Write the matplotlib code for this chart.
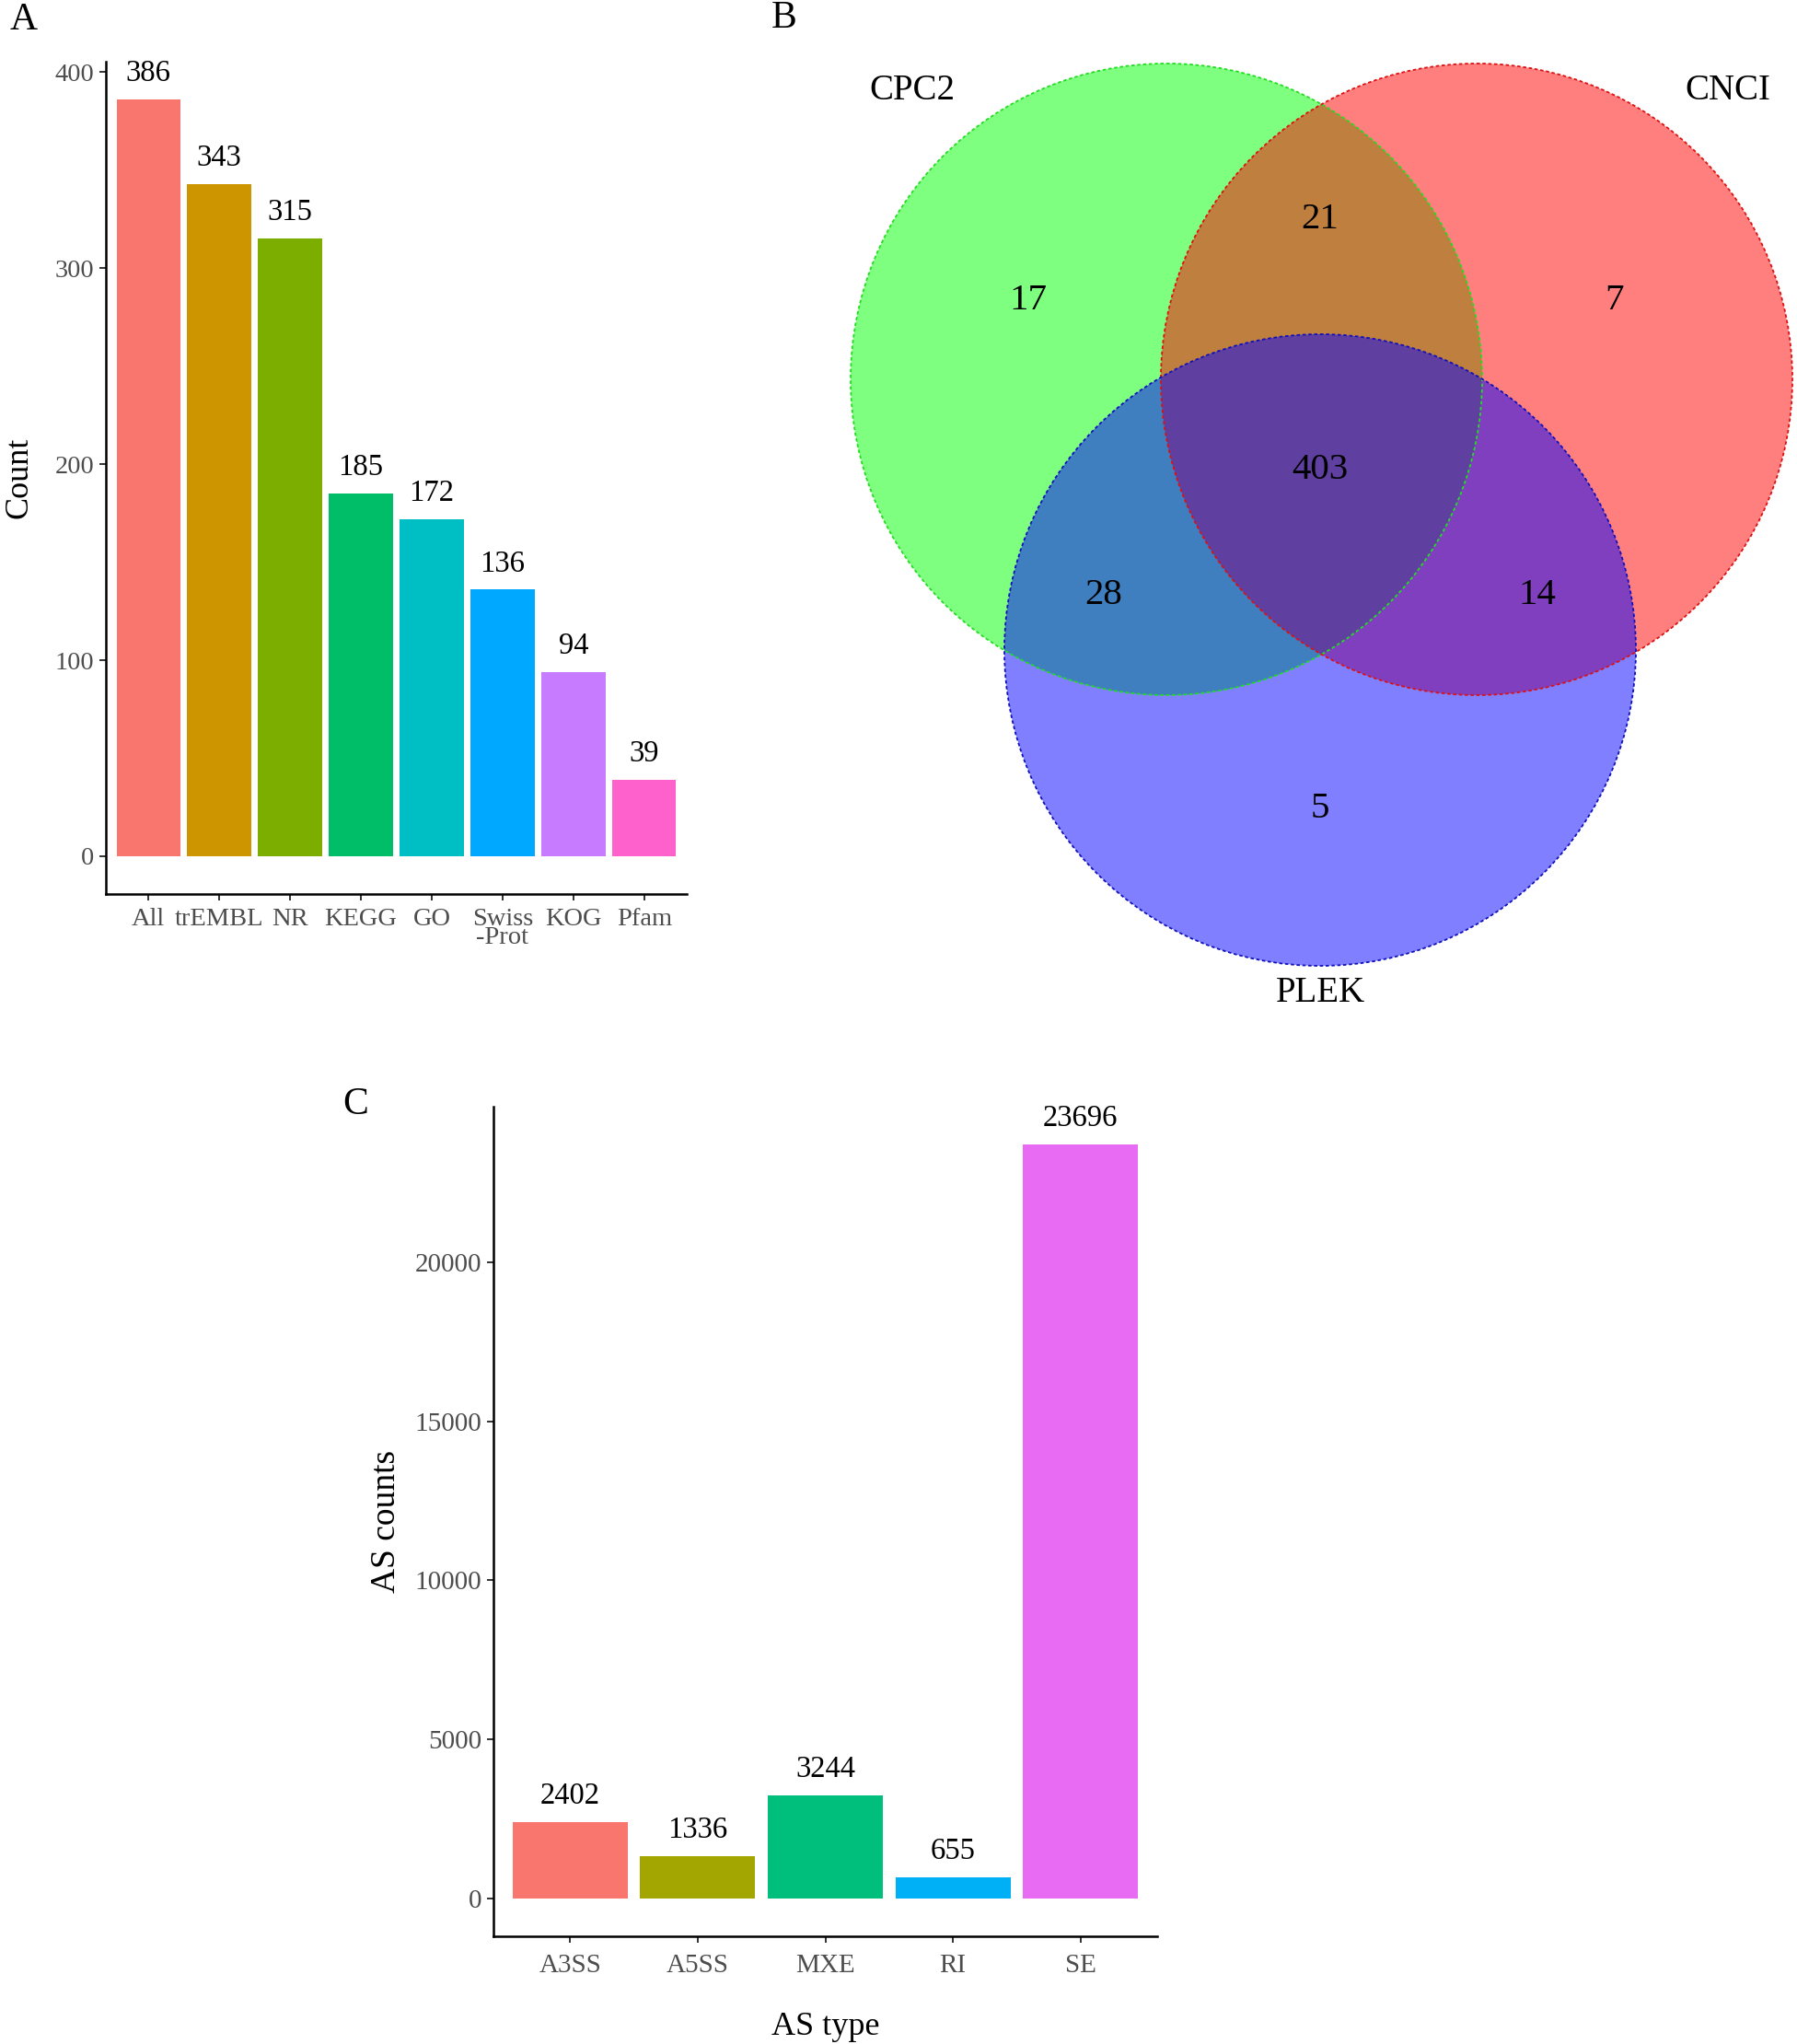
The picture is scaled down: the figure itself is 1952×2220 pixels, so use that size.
import matplotlib
matplotlib.use("Agg")
import matplotlib.pyplot as plt
from matplotlib.patches import Circle

plt.rcParams['font.family'] = ['Liberation Serif', 'DejaVu Serif']

# ---- Panel A data ----
db_names = ["All", "trEMBL", "NR", "KEGG", "GO", "Swiss\n-Prot", "KOG", "Pfam"]
db_counts = [386, 343, 315, 185, 172, 136, 94, 39]
db_colors = ["#F8766D", "#CD9600", "#7CAE00", "#00BE67", "#00BFC4", "#00A9FF", "#C77CFF", "#FF61CC"]
a_yticks = [0, 100, 200, 300, 400]

# ---- Panel B data (Venn) ----
venn_sets = ["CPC2", "CNCI", "PLEK"]
venn_only = [17, 7, 5]          # CPC2 only, CNCI only, PLEK only
venn_pairs = [21, 28, 14]       # CPC2&CNCI, CPC2&PLEK, CNCI&PLEK
venn_all = 403

# ---- Panel C data ----
as_types = ["A3SS", "A5SS", "MXE", "RI", "SE"]
as_counts = [2402, 1336, 3244, 655, 23696]
as_colors = ["#F8766D", "#A3A500", "#00BF7D", "#00B0F6", "#E76BF3"]
c_yticks = [0, 5000, 10000, 15000, 20000]

W, H = 1952, 2220
fig = plt.figure(figsize=(W / 100, H / 100), dpi=100)

TICK_COL = "#4D4D4D"

def style_axes(ax, size):
    for s in ["top", "right"]:
        ax.spines[s].set_visible(False)
    for s in ["left", "bottom"]:
        ax.spines[s].set_linewidth(1.8)
        ax.spines[s].set_color("black")
    ax.tick_params(axis="both", colors="#333333", length=5, width=1.4,
                   labelsize=size, labelcolor=TICK_COL, pad=4)

def frac(l, r, t, b):
    return [l / W, 1 - b / H, (r - l) / W, (b - t) / H]

# ---- Venn (full-figure pixel axes) ----
axv = fig.add_axes([0, 0, 1, 1])
axv.set_xlim(0, W)
axv.set_ylim(H, 0)
axv.axis("off")
axv.patch.set_visible(False)

centers = [(1267, 412), (1604, 412), (1434, 706)]
radius = 343
fills = [(0, 1, 0, 0.5), (1, 0, 0, 0.5), (0, 0, 1, 0.5)]
edges = ["#22DD22", "#DD1111", "#1111BB"]
for (cx, cy), fc in zip(centers, fills):
    axv.add_patch(Circle((cx, cy), radius, facecolor=fc, edgecolor="none"))
for (cx, cy), ec in zip(centers, edges):
    axv.add_patch(Circle((cx, cy), radius, facecolor="none", edgecolor=ec,
                         linestyle=(0, (2, 1.5)), linewidth=1.3))

num_fs = 29.5
only_pos = [(1117, 326), (1754, 326), (1434, 879)]
pair_pos = [(1434, 238), (1199, 647), (1670, 647)]
for (x, y), v in zip(only_pos, venn_only):
    axv.text(x, y, str(v), fontsize=num_fs, ha="center", va="center")
for (x, y), v in zip(pair_pos, venn_pairs):
    axv.text(x, y, str(v), fontsize=num_fs, ha="center", va="center")
axv.text(1434, 510, str(venn_all), fontsize=num_fs, ha="center", va="center")
label_pos = [(991, 99), (1877, 99), (1434, 1079)]
for (x, y), name in zip(label_pos, venn_sets):
    axv.text(x, y, name, fontsize=28, ha="center", va="center")

# ---- Panel A ----
axA = fig.add_axes(frac(115, 746, 67, 971))
xa = list(range(1, len(db_names) + 1))
axA.bar(xa, db_counts, width=0.9, color=db_colors)
for x, v in zip(xa, db_counts):
    axA.text(x, v + 6, str(v), ha="center", va="bottom", fontsize=23.5)
axA.set_xlim(0.4, len(db_names) + 0.6)
axA.set_ylim(-0.05 * max(db_counts), 1.05 * max(db_counts))
axA.set_xticks(xa)
axA.set_xticklabels(db_names, linespacing=0.7)
axA.set_yticks(a_yticks)
style_axes(axA, 20.5)
axA.tick_params(axis="x", pad=6)
axA.set_ylabel("Count", fontsize=26, labelpad=16)

# ---- Panel C ----
axC = fig.add_axes(frac(536, 1257, 1202, 2103))
xc = list(range(1, len(as_types) + 1))
axC.bar(xc, as_counts, width=0.9, color=as_colors)
for x, v in zip(xc, as_counts):
    axC.text(x, v + 380, str(v), ha="center", va="bottom", fontsize=23.5)
axC.set_xlim(0.4, len(as_types) + 0.6)
axC.set_ylim(-0.05 * max(as_counts), 1.05 * max(as_counts))
axC.set_xticks(xc)
axC.set_xticklabels(as_types)
axC.set_yticks(c_yticks)
style_axes(axC, 21)
axC.tick_params(axis="x", pad=9)
axC.set_ylabel("AS counts", fontsize=27, labelpad=10)
axC.set_xlabel("AS type", fontsize=26, labelpad=26)

# ---- Panel letters ----
fig.text(26 / W, 1 - 22 / H, "A", fontsize=30, ha="center", va="center")
fig.text(852 / W, 1 - 20 / H, "B", fontsize=30, ha="center", va="center")
fig.text(386 / W, 1 - 1200 / H, "C", fontsize=30, ha="center", va="center")

fig.savefig("out.png", dpi=100)
